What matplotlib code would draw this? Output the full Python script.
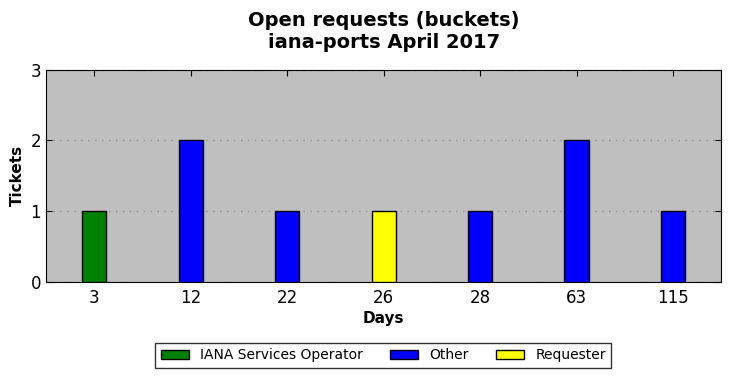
import numpy as np
import matplotlib
matplotlib.use("Agg")
import matplotlib.pyplot as plt

# Data
days = ["3", "12", "22", "26", "28", "63", "115"]
iana = [1, 0, 0, 0, 0, 0, 0]
other = [0, 2, 1, 0, 1, 2, 1]
requester = [0, 0, 0, 1, 0, 0, 0]

series = [
    ("IANA Services Operator", iana, "green"),
    ("Other", other, "blue"),
    ("Requester", requester, "yellow"),
]

fig, ax = plt.subplots(figsize=(7.3, 3.78), dpi=100)
fig.subplots_adjust(left=0.063, right=0.988, top=0.815, bottom=0.255)

x = np.arange(len(days))
bottom = np.zeros(len(days))
for name, vals, color in series:
    vals = np.array(vals, dtype=float)
    keep = vals > 0
    ax.bar(x[keep], vals[keep], width=0.25, bottom=bottom[keep], color=color,
           edgecolor="black", linewidth=1, label=name, zorder=3)
    bottom += vals

ax.set_facecolor("#bfbfbf")
ax.set_xlim(-0.5, len(days) - 0.5)
ax.set_ylim(0, 3)
ax.set_yticks([0, 1, 2, 3])
ax.set_xticks(x)
ax.set_xticklabels(days)
ax.tick_params(direction="in", top=True, right=True, labelsize=12, length=4)
ax.tick_params(axis="x", pad=5)
ax.yaxis.grid(True, linestyle=(0, (1, 4)), color="#8c8c8c", linewidth=1, zorder=0)
ax.set_axisbelow(True)

ax.set_xlabel("Days", fontsize=11, fontweight="bold", labelpad=3)
ax.set_ylabel("Tickets", fontsize=11, fontweight="bold")
ax.set_title("Open requests (buckets)\niana-ports April 2017", fontsize=14,
             fontweight="bold", pad=16)

leg = fig.legend(loc="lower center", bbox_to_anchor=(0.525, 0.008), ncol=3,
                 fontsize=10, fancybox=False, edgecolor="black",
                 handlelength=2.0, columnspacing=2.0, borderpad=0.4)
leg.get_frame().set_linewidth(1)

fig.savefig("out.png", dpi=100)
